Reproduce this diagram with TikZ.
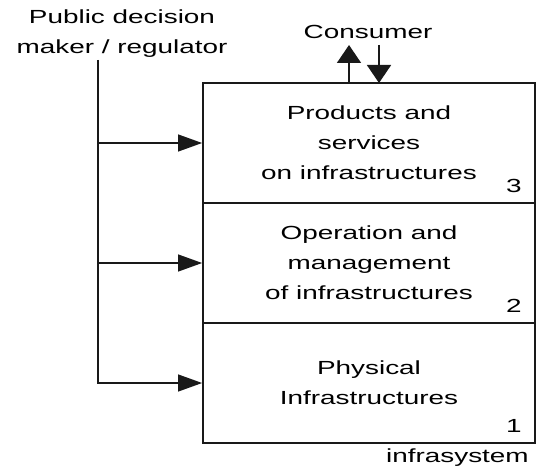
\documentclass[tikz,border=0pt]{standalone}
\usepackage{fontspec}
\setmainfont{Liberation Sans}[FakeStretch=1.47]
\usepackage{tikz}
\usetikzlibrary{arrows.meta,positioning}
\definecolor{ink}{RGB}{25,25,25}
\tikzset{
  layerbox/.style={draw=ink, line width=1.2pt, outer sep=0pt, minimum width=8.3cm, minimum height=3cm,
    align=center, font=\fontsize{13.5}{21.3}\selectfont},
  plainlabel/.style={align=center, inner sep=0pt, font=\fontsize{13.5}{21.3}\selectfont},
  flow/.style={-{Triangle[length=6mm, width=4.2mm]}, draw=ink, line width=1.2pt},
  upflow/.style={-{Triangle[length=4.5mm, width=6mm]}, draw=ink, line width=1.2pt},
  busline/.style={draw=ink, line width=1.2pt}
}
\begin{document}
\begin{tikzpicture}[node distance=0pt]
\useasboundingbox (0,0) rectangle (13.4,-11.75);
\node[layerbox] (l3) at (9.225,-3.575) {Products and\\services\\on infrastructures};
\node[layerbox, below=of l3] (l2) {Operation and\\management\\of infrastructures};
\node[layerbox, below=of l2] (l1) {Physical\\Infrastructures};

\node[plainlabel, anchor=base east] (n3) at ([shift={(-0.33,0.27)}]l3.south east) {3};
\node[plainlabel, anchor=base east] (n2) at ([shift={(-0.33,0.27)}]l2.south east) {2};
\node[plainlabel, anchor=base east] (n1) at ([shift={(-0.33,0.27)}]l1.south east) {1};
\node[plainlabel, anchor=base east] (sys) at ([shift={(-0.15,-0.475)}]l1.south east) {infrasystem};

\node[plainlabel, anchor=base] (cons) at (9.2,-0.965) {Consumer};
\coordinate (cout) at (8.725,-1.125);
\coordinate (cin) at (9.475,-1.125);
\draw[upflow] (cout |- l3.north) -- (cout);
\draw[upflow] (cin) -- (cin |- l3.north);

\node[plainlabel, anchor=north] (reg) at (3.05,-0.24) {Public decision\\maker / regulator};
\coordinate (bus) at (2.45,-1.5);
\draw[flow, shorten >=0.6pt] (bus) |- (l1.west);
\draw[flow, shorten >=0.6pt] (bus |- l2.west) -- (l2.west);
\draw[flow, shorten >=0.6pt] (bus |- l3.west) -- (l3.west);
\end{tikzpicture}
\end{document}
